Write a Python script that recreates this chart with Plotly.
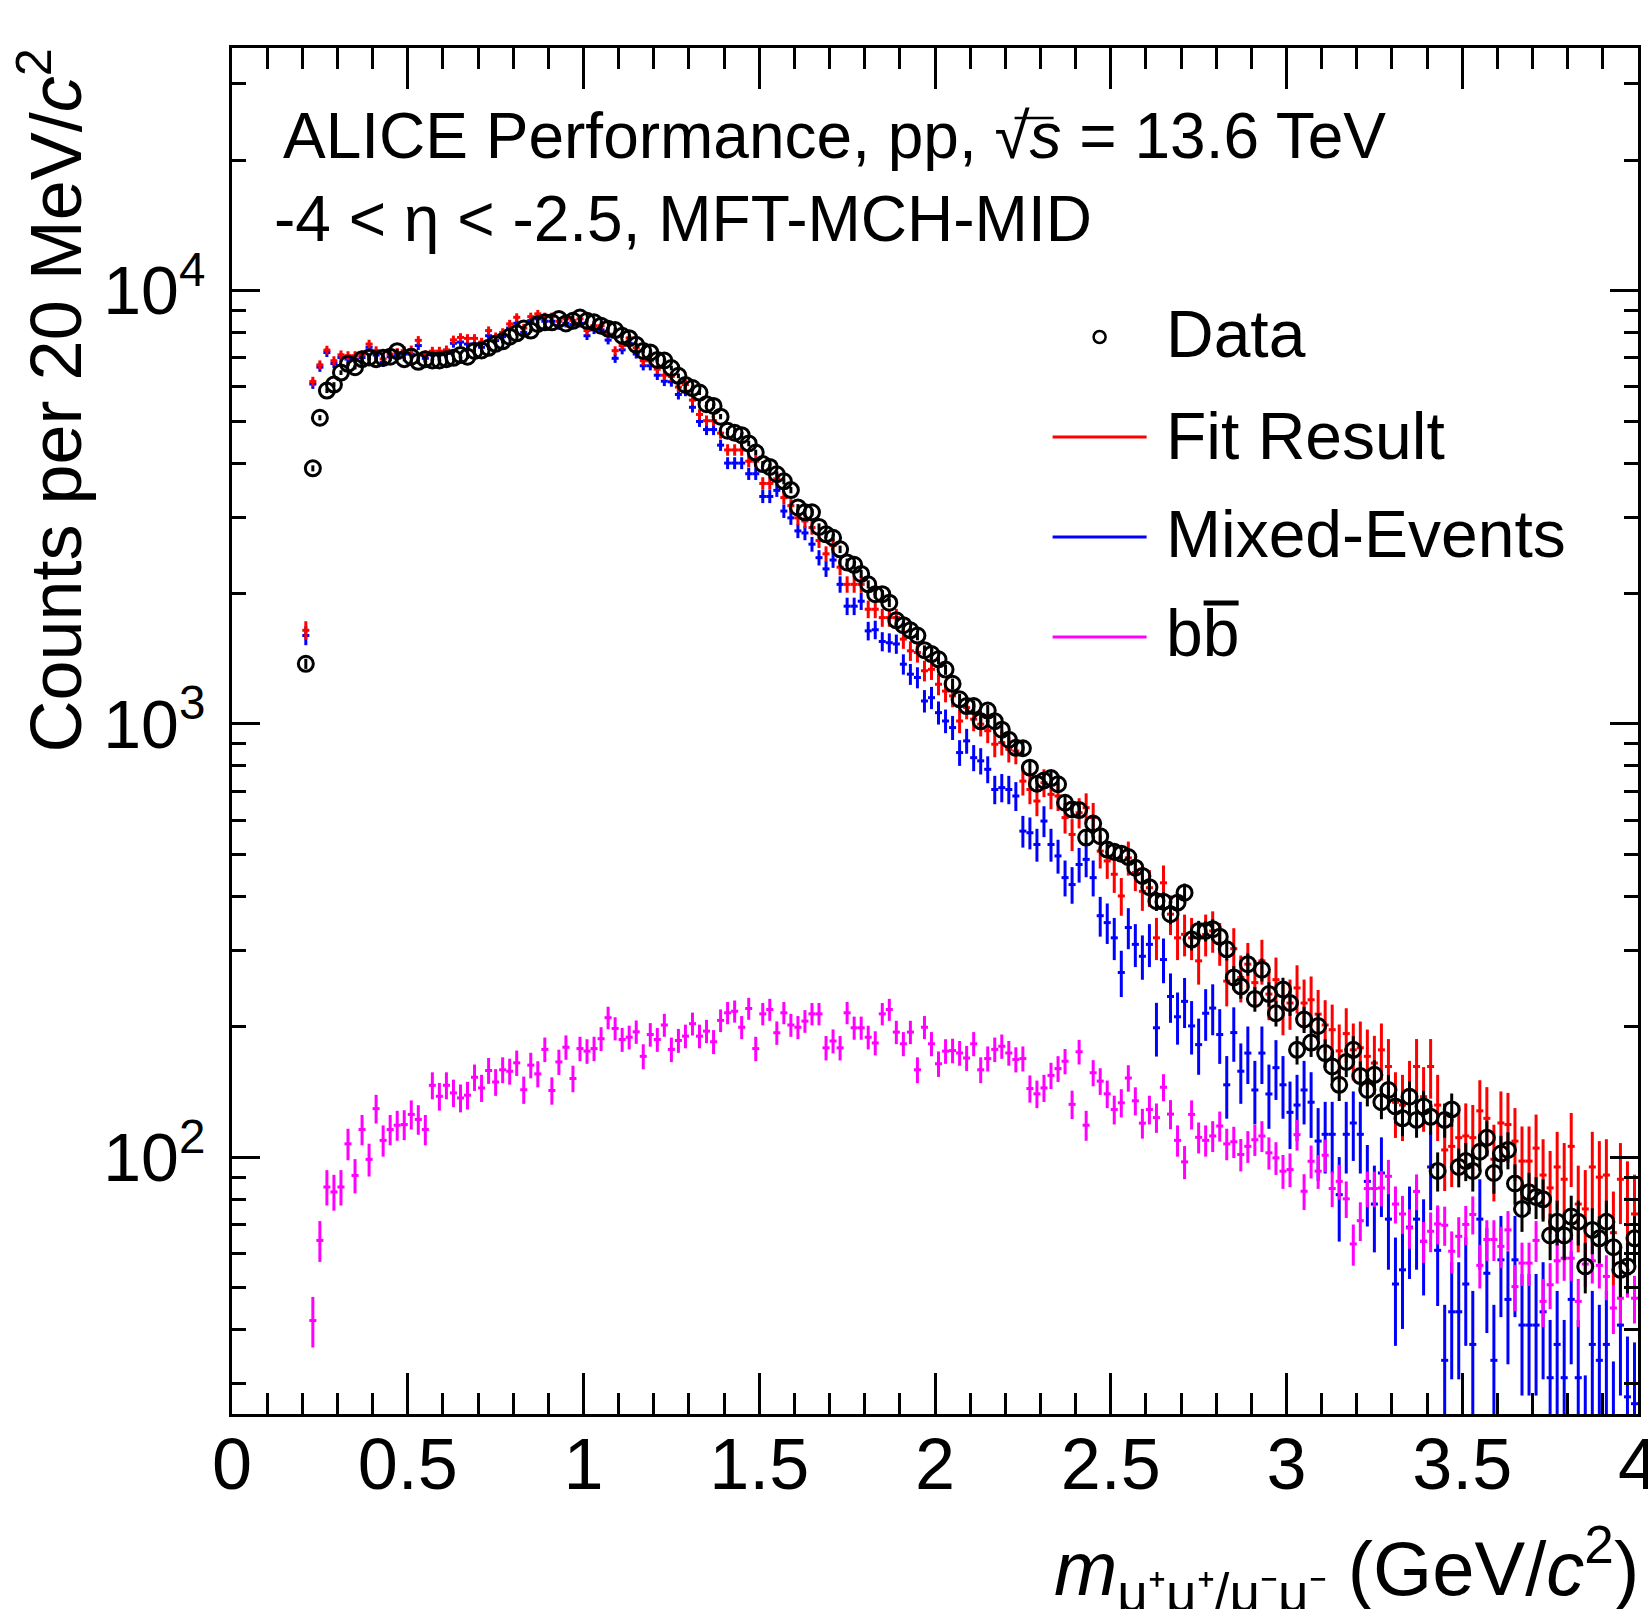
import math
import plotly.graph_objects as go

# ---------------- binning (20 MeV/c^2 bins) ----------------
BIN_LOW, BIN_WIDTH, N_BINS = 0.20, 0.02, 190
mass = [round(BIN_LOW + BIN_WIDTH * (k + 0.5), 3) for k in range(N_BINS)]

# ---------------- series values ----------------
data_counts = [
    1377, 3890, 5090, 5880, 6070, 6470, 6780, 6660, 6950, 7010,
    6950, 7000, 7040, 7250, 6950, 7040, 6850, 6950, 6900, 6900,
    6950, 7000, 7100, 7040, 7260, 7280, 7380, 7540, 7640, 7830,
    7970, 8180, 8090, 8380, 8450, 8450, 8600, 8400, 8520, 8670,
    8520, 8450, 8300, 8170, 8110, 7870, 7770, 7500, 7260, 7200,
    6920, 6900, 6630, 6360, 6060, 5960, 5820, 5470, 5420, 5120,
    4750, 4700, 4640, 4440, 4230, 3980, 3920, 3770, 3630, 3465,
    3160, 3080, 3080, 2850, 2740, 2690, 2530, 2360, 2330, 2220,
    2100, 1993, 1993, 1905, 1735, 1690, 1645, 1600, 1480, 1450,
    1410, 1335, 1238, 1140, 1100, 1100, 1014, 1074, 1015, 970,
    920, 881, 879, 793, 728, 741, 750, 726, 658, 635,
    633, 547, 589, 551, 513, 507, 502, 493, 466, 446,
    420, 390, 389, 364, 387, 408, 318, 333, 333, 336,
    323, 302, 260, 248, 279, 232, 271, 238, 215, 244,
    227, 177, 208, 184, 201, 174, 162, 147, 166, 177,
    154, 143, 155, 134, 143, 131, 123, 138, 122, 131,
    124, 93, 122, 129, 95, 98, 93, 103, 111, 92,
    102, 104, 87, 76, 83, 81, 80, 66, 71, 66,
    73, 71, 56, 68, 65, 71, 62, 55, 56, 65,
]

fit_result = [
    1645, 6170, 6740, 7290, 6890, 7110, 7080, 7080, 7110, 7530,
    7270, 6960, 7140, 7200, 7270, 7300, 7680, 7110, 7250, 7250,
    7300, 7700, 7800, 7760, 7760, 7610, 8090, 7830, 8010, 8380,
    8680, 8200, 8710, 8840, 8710, 8710, 8500, 8610, 8530, 8610,
    8090, 8300, 8300, 7940, 7270, 7470, 7780, 7380, 6890, 6890,
    6590, 6380, 6340, 5990, 6070, 5590, 5180, 5010, 5010, 4690,
    4290, 4290, 4290, 4040, 4040, 3590, 3590, 3680, 3330, 3190,
    2990, 2940, 2840, 2650, 2470, 2580, 2300, 2100, 2100, 2100,
    1840, 1840, 1760, 1760, 1760, 1570, 1475, 1462, 1327, 1337,
    1235, 1191, 1161, 1016, 1091, 1026, 999, 965, 898, 906,
    874, 866, 738, 706, 664, 732, 688, 682, 608, 556,
    624, 641, 608, 509, 483, 450, 401, 491, 454, 411,
    419, 321, 430, 364, 321, 327, 321, 284, 327, 333,
    312, 255, 303, 260, 279, 253, 284, 238, 257, 221,
    227, 246, 227, 231, 214, 202, 197, 176, 193, 177,
    179, 171, 165, 177, 162, 134, 132, 143, 162, 138,
    162, 132, 104, 106, 111, 112, 111, 128, 123, 99,
    120, 119, 109, 98, 98, 105, 91, 85, 95, 89,
    106, 78, 76, 95, 90, 91, 67, 89, 80, 74,
]

mixed_events = [
    1600, 6090, 6660, 7200, 6790, 7010, 6950, 6950, 7010, 7400,
    7100, 6830, 7040, 7080, 7140, 7140, 7470, 6980, 7110, 7110,
    7160, 7560, 7610, 7530, 7530, 7400, 7870, 7670, 7830, 8200,
    8410, 8010, 8530, 8610, 8500, 8500, 8300, 8410, 8350, 8410,
    7870, 8120, 8120, 7690, 6980, 7300, 7560, 7140, 6710, 6710,
    6380, 6180, 6160, 5760, 5860, 5380, 4990, 4780, 4780, 4400,
    4000, 4000, 4000, 3780, 3780, 3350, 3350, 3460, 3100, 2990,
    2790, 2760, 2600, 2420, 2280, 2390, 2100, 1870, 1870, 1920,
    1640, 1650, 1550, 1540, 1530, 1374, 1303, 1280, 1130, 1150,
    1062, 1016, 981, 859, 914, 836, 822, 786, 706, 713,
    706, 682, 566, 561, 527, 597, 527, 496, 442, 426,
    474, 487, 442, 361, 348, 321, 267, 339, 310, 291,
    310, 199, 286, 235, 211, 229, 201, 182, 215, 221,
    192, 147, 194, 158, 174, 143, 174, 140, 161, 147,
    127, 132, 143, 134, 109, 113, 113, 82, 113, 120,
    113, 88, 78, 92, 72, 51, 55, 69, 72, 64,
    95, 61, 34, 44, 44, 51, 37, 72, 54, 34,
    58, 47, 58, 41, 41, 41, 44, 31, 37, 31,
    47, 31, 22, 37, 34, 37, 24, 41, 28, 27,
]

bbbar = [
    None, 42.0, 64.3, 85.4, 83.2, 85.4, 107.4, 90.8, 115.9, 98.9,
    129.5, 109.4, 115.9, 118.6, 119.0, 125.6, 122.3, 115.9, 146.6, 138.3,
    146.6, 140.8, 137.1, 139.1, 153.0, 144.6, 158.6, 149.2, 159.2, 158.0,
    165.2, 143.2, 163.2, 155.8, 177.4, 142.6, 166.0, 179.5, 152.0, 178.2,
    175.8, 178.2, 187.8, 210.0, 198.3, 187.0, 189.3, 194.8, 171.0, 192.0,
    187.0, 202.0, 177.4, 186.0, 190.4, 203.4, 190.4, 195.5, 184.8, 207.0,
    215.5, 217.3, 199.6, 220.5, 178.2, 214.3, 219.3, 193.8, 215.5, 202.0,
    199.6, 206.2, 214.3, 214.3, 178.9, 185.5, 178.9, 215.5, 199.0, 199.0,
    189.3, 183.6, 214.3, 219.3, 194.5, 182.8, 194.5, 159.2, 199.6, 182.8,
    164.4, 175.8, 176.3, 174.1, 169.5, 182.8, 159.2, 169.0, 177.4, 180.4,
    174.1, 168.2, 169.0, 144.1, 140.1, 144.6, 154.5, 160.2, 166.6, 132.5,
    175.2, 118.6, 156.7, 149.9, 140.1, 128.9, 133.6, 152.4, 135.0, 119.9,
    128.9, 123.5, 145.1, 125.8, 109.4, 97.6, 125.6, 111.2, 109.4, 112.0,
    118.1, 107.4, 108.6, 101.5, 106.0, 109.8, 112.0, 102.4, 99.7, 92.9,
    93.7, 112.8, 83.5, 97.9, 92.9, 101.1, 84.7, 88.0, 80.2, 63.1,
    71.4, 84.7, 84.7, 85.0, 90.4, 78.0, 74.0, 68.7, 83.4, 64.0,
    67.5, 70.2, 69.7, 60.7, 65.7, 70.0, 73.8, 56.3, 64.6, 64.6,
    62.3, 68.0, 50.3, 57.0, 57.0, 64.3, 46.5, 50.8, 57.7, 58.5,
    58.5, 46.5, 56.7, 57.7, 56.3, 53.1, 44.9, 47.3, 53.8, 47.3,
]

# statistical weights of the histograms (sumw2 / sumw)
W_DATA, W_FIT, W_ME, W_BB = 1.0, 4.0, 4.0, 0.75

y_tick_vals = [100, 1000, 10000]
y_tick_text = ["10<sup>2</sup>", "10<sup>3</sup>", "10<sup>4</sup>"]
legend_labels = ["Data", "Fit Result", "Mixed-Events", "bb"]


def stat_err(vals, w):
    return [0 if v is None else math.sqrt(w * v) for v in vals]


RED, BLUE, MAGENTA = "#ff0000", "#0000ff", "#ff00ff"
FONT = "Liberation Sans, Arial, Helvetica, sans-serif"
BAR_W = 3


def hist_trace(y, w, color, name):
    return go.Scatter(
        x=mass, y=y, mode="markers", name=name,
        marker=dict(size=1, color=color),
        error_x=dict(type="constant", value=BIN_WIDTH / 2, width=0, thickness=BAR_W, color=color),
        error_y=dict(type="data", array=stat_err(y, w), width=0, thickness=BAR_W, color=color),
        cliponaxis=True,
    )


fig = go.Figure()
fig.add_trace(hist_trace(mixed_events, W_ME, BLUE, "Mixed-Events"))
fig.add_trace(hist_trace(bbbar, W_BB, MAGENTA, "bb"))
fig.add_trace(hist_trace(fit_result, W_FIT, RED, "Fit Result"))
fig.add_trace(go.Scatter(
    x=mass, y=data_counts, mode="markers", name="Data",
    marker=dict(symbol="circle-open", size=15, color="black", line=dict(width=3, color="black")),
    error_y=dict(type="data", array=stat_err(data_counts, W_DATA), width=0, thickness=BAR_W, color="black"),
))

# geometry helpers (pixel -> paper)
L, R, T, B = 232.4, 1638.4, 48.0, 1414.0
def px(x):
    return (x - L) / (R - L)
def py(y):
    return (B - y) / (B - T)

minor_y = [m * 10 ** e for e in (1, 2, 3, 4) for m in range(2, 10) if 25 < m * 10 ** e < 37000]

fig.update_layout(
    width=1648, height=1609,
    margin=dict(l=232, r=10, t=48, b=195, pad=0, autoexpand=False),
    paper_bgcolor="white", plot_bgcolor="white",
    showlegend=False,
    font=dict(family=FONT, color="black", size=72),
)
fig.update_xaxes(
    range=[0, 4], tick0=0, dtick=0.5, automargin=False,
    ticks="inside", ticklen=41, tickwidth=2.5, tickcolor="black",
    showline=True, linewidth=3, linecolor="black", mirror="allticks",
    showgrid=False, zeroline=False, tickfont=dict(size=72, family=FONT),
    ticklabelstandoff=-14, ticklabeloverflow="allow",
    minor=dict(ticks="inside", ticklen=21, tickwidth=2.5, tickcolor="black", dtick=0.1, tick0=0, showgrid=False),
)
fig.update_yaxes(
    type="log", range=[1.4076, 4.560], automargin=False,
    tickmode="array", tickvals=y_tick_vals, ticktext=y_tick_text,
    ticks="inside", ticklen=28, tickwidth=2.5, tickcolor="black",
    showline=True, linewidth=3, linecolor="black", mirror="allticks",
    showgrid=False, zeroline=False, tickfont=dict(size=68, family=FONT),
    ticklabelstandoff=10, ticklabeloverflow="allow",
    minor=dict(ticks="inside", ticklen=14, tickwidth=2.5, tickcolor="black",
               tickmode="array", tickvals=minor_y, showgrid=False),
)

ann = []
# axis titles
ann.append(dict(text="Counts per 20 MeV/<i>c</i><sup>2</sup>", textangle=-90,
                x=px(50), y=py(47), xref="paper", yref="paper",
                xanchor="center", yanchor="top", showarrow=False,
                font=dict(size=72, family=FONT)))
ann.append(dict(text="<i>m</i><sub>μ⁺μ⁺/μ⁻μ⁻</sub> (GeV/<i>c</i><sup>2</sup>)",
                x=px(1641), y=py(1568), xref="paper", yref="paper",
                xanchor="right", yanchor="middle", showarrow=False,
                font=dict(size=76, family=FONT)))
# header
ann.append(dict(text="ALICE Performance, pp, √<i>s</i> = 13.6 TeV",
                x=px(282), y=py(136), xref="paper", yref="paper",
                xanchor="left", yanchor="middle", showarrow=False, borderpad=0,
                font=dict(size=64, family=FONT)))
ann.append(dict(text="-4 < η < -2.5, MFT-MCH-MID",
                x=px(273), y=py(219), xref="paper", yref="paper",
                xanchor="left", yanchor="middle", showarrow=False, borderpad=0,
                font=dict(size=64, family=FONT)))

# legend
legend_rows = [333.5, 436, 534, 633]
for lab, yy in zip(legend_labels, legend_rows):
    ann.append(dict(text=lab, x=px(1165), y=py(yy), xref="paper", yref="paper",
                    xanchor="left", yanchor="middle", showarrow=False, borderpad=0,
                    font=dict(size=66, family=FONT)))
fig.update_layout(annotations=ann)

shapes = []
for color, yy in zip([RED, BLUE, MAGENTA], [437, 537, 637]):
    shapes.append(dict(type="line", xref="paper", yref="paper",
                       x0=px(1053), x1=px(1147), y0=py(yy), y1=py(yy),
                       line=dict(color=color, width=3)))
shapes.append(dict(type="circle", xref="paper", yref="paper",
                   x0=px(1094), x1=px(1106), y0=py(343), y1=py(331),
                   line=dict(color="black", width=2.5)))
# bar over the second b of "bb"
shapes.append(dict(type="line", xref="paper", yref="paper",
                   x0=px(1204), x1=px(1239), y0=py(603), y1=py(603),
                   line=dict(color="black", width=5)))
# vinculum of the square root over s
shapes.append(dict(type="line", xref="paper", yref="paper",
                   x0=px(1015), x1=px(1054), y0=py(118), y1=py(118),
                   line=dict(color="black", width=2.5)))
fig.update_layout(shapes=shapes)

fig.write_html("out.html", config={"displayModeBar": False},
               post_script="document.body.style.margin='0';")
